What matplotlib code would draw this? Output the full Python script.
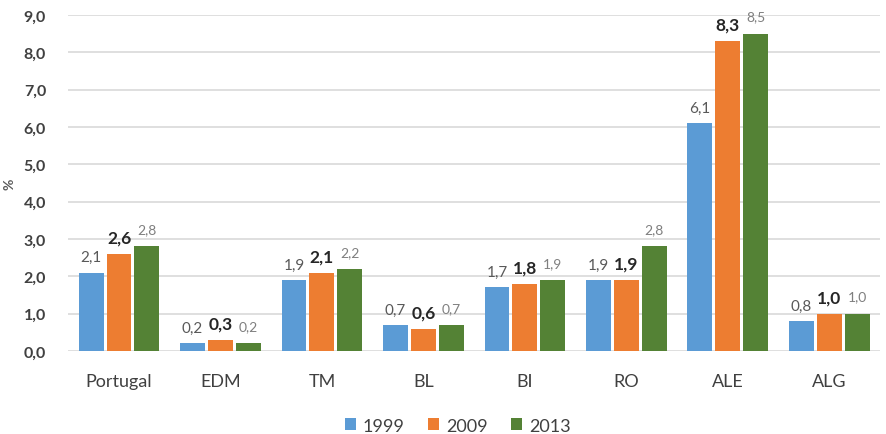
import matplotlib.pyplot as plt
import numpy as np
from matplotlib.ticker import FuncFormatter

plt.rcParams["font.family"] = ["Lato", "DejaVu Sans"]

# Values per region and year
regions = ["Portugal", "EDM", "TM", "BL", "BI", "RO", "ALE", "ALG"]
years = ["1999", "2009", "2013"]
v1999 = [2.1, 0.2, 1.9, 0.7, 1.7, 1.9, 6.1, 0.8]
v2009 = [2.6, 0.3, 2.1, 0.6, 1.8, 1.9, 8.3, 1.0]
v2013 = [2.8, 0.2, 2.2, 0.7, 1.9, 2.8, 8.5, 1.0]

colors = ["#5b9bd5", "#ed7d31", "#548235"]
label_style = [
    dict(fontsize=11, color="#595959", fontweight="normal"),
    dict(fontsize=12.5, color="#262626", fontweight="bold"),
    dict(fontsize=10, color="#7f7f7f", fontweight="normal"),
]


def comma(v, pos=None):
    return f"{v:.1f}".replace(".", ",")


fig = plt.figure(figsize=(8.87, 4.35), dpi=100)
ax = fig.add_axes([0.077, 0.191, 0.915, 0.772])

x = np.arange(len(regions))
w = 0.245
step = 0.275
for i, (vals, col, st) in enumerate(zip([v1999, v2009, v2013], colors, label_style)):
    xs = x + (i - 1) * step
    ax.bar(xs, vals, width=w, color=col, label=years[i], zorder=3)
    for xi, v in zip(xs, vals):
        dy = 6 if i != 2 else 8
        ax.annotate(comma(v), (xi, v), xytext=(0, dy), textcoords="offset points",
                    ha="center", va="bottom", **st)

ax.set_xlim(-0.5, len(regions) - 0.5)
ax.set_ylim(0, 9)
ax.set_yticks(np.arange(0, 9.1, 1))
ax.yaxis.set_major_formatter(FuncFormatter(comma))
ax.grid(axis="y", color="#d9d9d9", linewidth=1.2, zorder=0)
for s in ax.spines.values():
    s.set_visible(False)
ax.tick_params(axis="both", length=0)
ax.tick_params(axis="y", labelsize=11.5, pad=16, colors="#404040")
ax.set_xticks(x)
ax.set_xticklabels(regions, fontsize=13, color="#404040")
ax.tick_params(axis="x", pad=16)
for lab in ax.get_yticklabels():
    lab.set_fontweight("bold")
ax.set_ylabel("%", fontsize=10, color="#595959", fontweight="bold", labelpad=6)

ax.legend(loc="upper center", bbox_to_anchor=(0.48, -0.15), ncol=3, frameon=False,
          fontsize=13, handlelength=0.6, handleheight=0.6, handletextpad=0.4,
          columnspacing=1.3, labelcolor="#404040")

fig.savefig("out.png", dpi=100)
